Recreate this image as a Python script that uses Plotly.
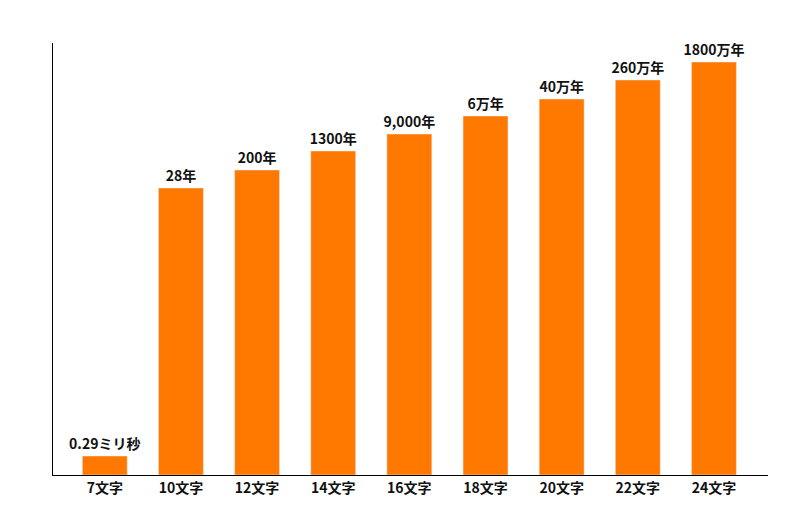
import plotly.graph_objects as go

categories = ["7文字", "10文字", "12文字", "14文字", "16文字", "18文字", "20文字", "22文字", "24文字"]
heights = [19, 287, 305, 324, 341, 359, 376, 395, 413]
labels = ["0.29ミリ秒", "28年", "200年", "1300年", "9,000年", "6万年", "40万年", "260万年", "1800万年"]

fig = go.Figure(go.Bar(
    x=list(range(len(categories))), y=heights, text=["<b>%s</b>" % t for t in labels],
    textposition="outside", constraintext="none",
    marker_color="#FF7800", width=0.59, cliponaxis=False,
    textfont=dict(family="Noto Sans CJK JP", size=14, color="#111"),
))
fig.update_layout(
    width=800, height=510, margin=dict(l=45, r=40, t=35, b=43, autoexpand=False),
    plot_bgcolor="white", paper_bgcolor="white", showlegend=False,
    font=dict(family="Noto Sans CJK JP", size=14, color="#111"),
)
fig.update_xaxes(range=[-0.68, 8.71], tickvals=list(range(len(categories))),
                 ticktext=["<b>%s</b>" % c for c in categories],
                 showline=True, linecolor="black", linewidth=1, ticks="", showgrid=False,
                 tickfont=dict(family="Noto Sans CJK JP", size=14, color="#111"))
fig.update_yaxes(range=[0, 432], showline=True, linecolor="black", linewidth=1,
                 showticklabels=False, ticks="", showgrid=False, zeroline=False)
fig.write_html("out.html")
